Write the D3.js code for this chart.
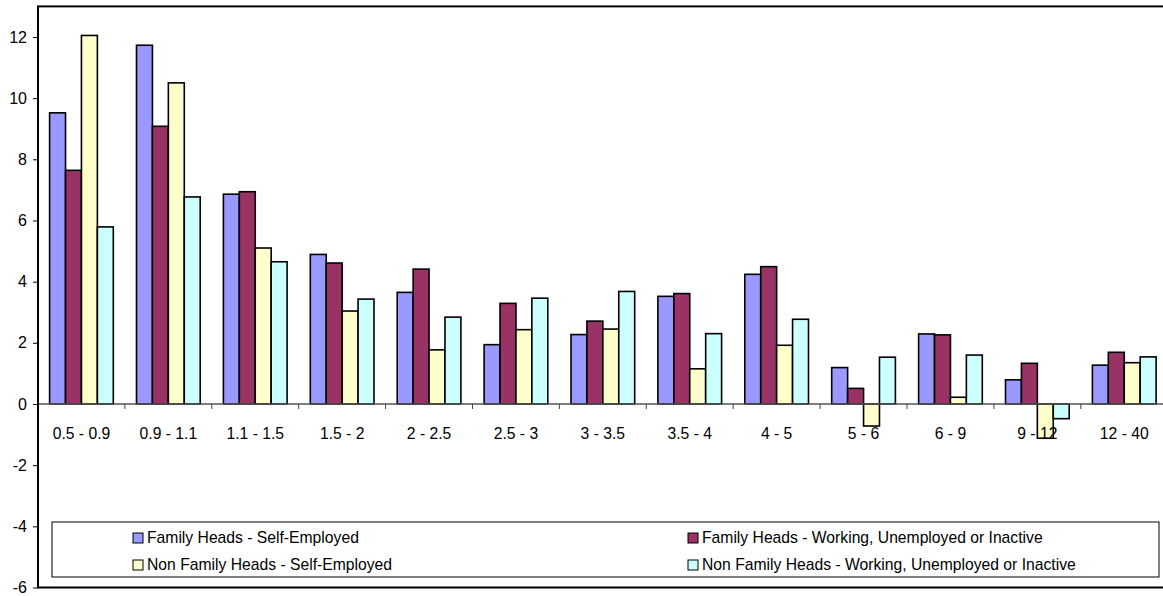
<!DOCTYPE html>
<meta charset="utf-8">
<html>
<script src="https://d3js.org/d3.v7.min.js"></script>
<body style="margin:0;background:#fff;">
<style>
    text { font-family: "Liberation Sans", Arial, sans-serif; fill: #000; }
</style>
<div id="chart"></div>
<script>
    // data
    var categories = ["0.5 - 0.9", "0.9 - 1.1", "1.1 - 1.5", "1.5 - 2", "2 - 2.5", "2.5 - 3", "3 - 3.5",
                      "3.5 - 4", "4 - 5", "5 - 6", "6 - 9", "9 - 12", "12 - 40"];
    var seriesNames = ["Family Heads - Self-Employed",
                       "Family Heads - Working, Unemployed or Inactive",
                       "Non Family Heads - Self-Employed",
                       "Non Family Heads - Working, Unemployed or Inactive"];
    var famSelf   = [9.52, 11.73, 6.86, 4.89, 3.65, 1.94, 2.27, 3.52, 4.24, 1.19, 2.29, 0.79, 1.27];
    var famWork   = [7.64, 9.08, 6.94, 4.61, 4.41, 3.29, 2.71, 3.61, 4.49, 0.51, 2.26, 1.33, 1.69];
    var nonSelf   = [12.05, 10.5, 5.10, 3.04, 1.77, 2.43, 2.45, 1.15, 1.92, -0.72, 0.22, -1.12, 1.35];
    var nonWork   = [5.79, 6.77, 4.65, 3.43, 2.84, 3.46, 3.68, 2.30, 2.77, 1.53, 1.60, -0.48, 1.54];
    var yTicks = [-6, -4, -2, 0, 2, 4, 6, 8, 10, 12];
    var colors = ["#9999FF", "#993366", "#FFFFCC", "#CCFFFF"];

    var allSeries = [famSelf, famWork, nonSelf, nonWork];

    var W = 1163, H = 596;
    var margin = {left: 38, right: 1167.7, top: 6.4, bottom: 587.5};

    var svg = d3.select("#chart").append("svg")
        .attr("width", W)
        .attr("height", H);

    // scales
    var x0 = d3.scaleBand().domain(categories).range([margin.left, margin.right])
        .paddingInner(0.267).paddingOuter(0.1335);
    var x1 = d3.scaleBand().domain(d3.range(4)).range([0, x0.bandwidth()]);
    var y = d3.scaleLinear().domain([-6, 13]).range([margin.bottom, margin.top]);

    // bars
    var rows = [];
    categories.forEach(function(c, i) {
        allSeries.forEach(function(s, j) {
            rows.push({cat: c, s: j, v: s[i]});
        });
    });

    svg.append("g").selectAll("rect")
        .data(rows)
        .enter().append("rect")
        .attr("x", function(d) { return x0(d.cat) + x1(d.s); })
        .attr("y", function(d) { return y(Math.max(0, d.v)); })
        .attr("width", x1.bandwidth())
        .attr("height", function(d) { return Math.abs(y(d.v) - y(0)); })
        .style("fill", function(d) { return colors[d.s]; })
        .style("stroke", "#000")
        .style("stroke-width", 1.6);

    // zero axis line
    svg.append("line")
        .attr("x1", margin.left).attr("x2", margin.right)
        .attr("y1", y(0)).attr("y2", y(0))
        .style("stroke", "#555").style("stroke-width", 1.5);

    // category ticks (between groups)
    var step = x0.step();
    svg.append("g").selectAll("line")
        .data(d3.range(categories.length + 1))
        .enter().append("line")
        .attr("x1", function(k) { return margin.left + k * step; })
        .attr("x2", function(k) { return margin.left + k * step; })
        .attr("y1", y(0)).attr("y2", y(0) + 5)
        .style("stroke", "#444").style("stroke-width", 1);

    // category labels
    svg.append("g").selectAll("text")
        .data(categories)
        .enter().append("text")
        .attr("x", function(d) { return x0(d) + x0.bandwidth() / 2; })
        .attr("y", y(0) + 35)
        .attr("text-anchor", "middle")
        .style("font-size", "15.7px")
        .text(function(d) { return d; });

    // y axis
    var yAxis = svg.append("g")
        .attr("transform", "translate(" + margin.left + ",0)")
        .call(d3.axisLeft(y).tickValues(yTicks).tickSize(5).tickPadding(6)
            .tickFormat(function(d) { return String(d); }));
    yAxis.select(".domain").remove();
    yAxis.selectAll("line").style("stroke", "#000");
    yAxis.selectAll("text")
        .style("font-family", "'Liberation Sans', Arial, sans-serif")
        .style("font-size", "16px");

    // plot frame
    svg.append("rect")
        .attr("x", margin.left).attr("y", margin.top)
        .attr("width", margin.right - margin.left).attr("height", margin.bottom - margin.top)
        .style("fill", "none")
        .style("stroke", "#000")
        .style("stroke-width", 2);

    // legend
    var lg = svg.append("g");
    lg.append("rect")
        .attr("x", 52).attr("y", 522)
        .attr("width", 1107).attr("height", 55)
        .style("fill", "#fff").style("stroke", "#000").style("stroke-width", 1);

    var legX = [133, 688], legY = [533, 560];
    var items = lg.selectAll(".item")
        .data(d3.range(4))
        .enter().append("g")
        .attr("transform", function(d) {
            return "translate(" + legX[d % 2] + "," + legY[Math.floor(d / 2)] + ")";
        });
    items.append("rect")
        .attr("width", 10).attr("height", 10)
        .style("fill", function(d) { return colors[d]; })
        .style("stroke", "#000").style("stroke-width", 1);
    items.append("text")
        .attr("x", 14).attr("y", 10)
        .style("font-size", "15.7px")
        .text(function(d) { return seriesNames[d]; });
</script>
</body>
</html>
